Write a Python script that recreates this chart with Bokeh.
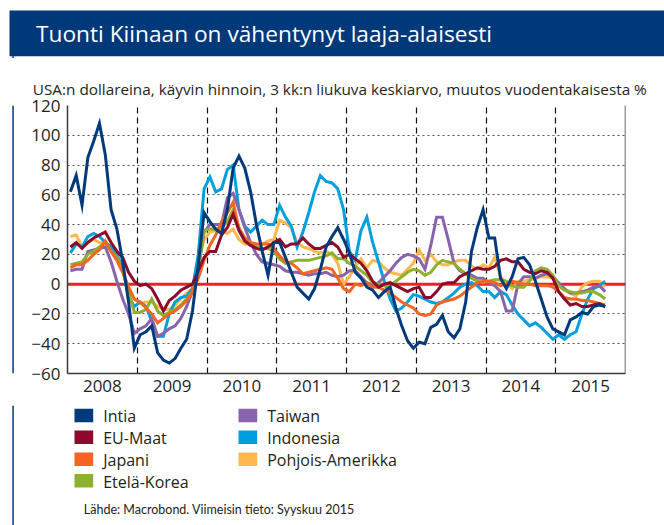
from bokeh.plotting import figure
from bokeh.layouts import column, row
from bokeh.models import Span, FixedTicker, Range1d, CustomJSTickFormatter, Title
from bokeh.core.properties import value
from bokeh.embed import file_html
from bokeh.resources import INLINE

# ---------------- data (monthly, Jan 2008 - Sep 2015, % y/y) ----------------
start_year = 2008
series_names = ["Intia", "EU-Maat", "Japani", "Etelä-Korea", "Taiwan", "Indonesia", "Pohjois-Amerikka"]

intia = [62, 73, 53, 85, 96, 108, 87, 50, 37, 15, -12, -43,
         -34, -32, -28, -46, -51, -53, -50, -43, -37, -18, 13, 48,
         42, 37, 34, 50, 78, 86, 78, 62, 40, 22, 6, 28,
         28, 18, 8, -2, -6, -10, -3, 10, 25, 32, 38, 30,
         21, 8, 4, -2, -4, -9, -5, -2, -16, -28, -38, -43,
         -39, -40, -29, -27, -21, -32, -36, -30, -12, 22, 38, 50,
         31, 31, 4, -3, 5, 17, 18, 13, 2, -10, -22, -30,
         -32, -34, -24, -22, -19, -20, -15, -14, -15]

eu_maat = [25, 28, 24, 28, 31, 33, 35, 28, 22, 18, 8, 2,
           -1, 0, -3, -10, -18, -11, -8, -4, -2, 0, 9, 18,
           22, 22, 33, 38, 47, 36, 29, 26, 24, 23, 25, 28,
           30, 25, 27, 27, 31, 27, 24, 24, 26, 28, 25, 18,
           20, 17, 14, 9, 2, -2, 0, 1, -1, -3, -5, -3,
           -2, -9, -9, -5, 0, 1, 1, 5, 7, 9, 11, 10,
           10, 12, 16, 17, 15, 15, 10, 8, 7, 9, 8, 4,
           -5, -10, -14, -13, -15, -15, -14, -13, -15]

japani = [11, 13, 13, 16, 20, 23, 29, 22, 16, 8, -2, -10,
          -12, -16, -20, -26, -23, -20, -18, -15, -11, -5, 4, 16,
          26, 33, 42, 48, 55, 37, 31, 28, 27, 27, 27, 24,
          19, 15, 14, 11, 7, 8, 9, 10, 11, 10, 4, -3,
          -5, 0, -1, 1, -2, -2, -4, -6, -9, -12, -14, -16,
          -20, -21, -20, -14, -12, -11, -10, -8, -5, -2, 1, 2,
          2, 1, -1, 0, 2, 1, 0, 0, -1, -1, -1, -2,
          -5, -9, -10, -10, -11, -11, -12, -13, -14]

etela_korea = [13, 14, 15, 20, 22, 25, 28, 22, 18, 10, -5, -19,
               -19, -17, -10, -18, -21, -19, -17, -14, -10, -5, 10, 36,
               37, 37, 38, 42, 50, 38, 31, 27, 25, 24, 24, 22,
               17, 14, 15, 16, 16, 16, 17, 18, 19, 21, 17, 17,
               14, 12, 9, 6, 1, 0, -1, -1, 2, 5, 8, 10,
               9, 6, 8, 13, 16, 15, 14, 10, 7, 4, 2, 1,
               2, 3, 3, 2, -1, -2, -2, 2, 9, 11, 10, 6,
               -1, -4, -5, -6, -6, -5, -5, -7, -10]

taiwan = [9, 10, 10, 22, 23, 24, 25, 15, 2, -10, -20, -33,
          -30, -28, -23, -35, -33, -30, -28, -23, -15, -5, 10, 35,
          40, 40, 40, 58, 61, 50, 38, 28, 20, 15, 14, 13,
          12, 9, 8, 8, 7, 6, 7, 7, 8, 6, 5, 6,
          9, 9, 5, 1, -1, 1, 5, 9, 14, 18, 20, 19,
          17, 10, 26, 45, 45, 30, 14, 9, 7, 6, 4, 4,
          1, -1, -5, -18, -18, 0, 5, 5, 4, 6, 7, 5,
          1, -3, -6, -6, -5, -4, -2, -1, -5]

indonesia = [21, 27, 25, 32, 34, 32, 28, 25, 20, 10, -8, -15,
             -12, -15, -25, -35, -35, -20, -12, -9, -8, -3, 20, 64,
             72, 62, 64, 77, 80, 50, 39, 35, 39, 43, 40, 40,
             53, 45, 39, 25, 35, 48, 62, 73, 69, 68, 64, 50,
             22, 16, 36, 45, 28, 15, 2, -10, -18, -16, -12, -7,
             -8, -10, -12, -13, -12, -9, -6, -2, 0, 1, -1, -5,
             -5, -9, -5, -7, -14, -20, -24, -28, -26, -29, -33, -37,
             -34, -37, -34, -32, -20, -10, -3, -1, 2]

pohjois_amerikka = [32, 33, 25, 28, 30, 28, 27, 22, 16, 8, -2, -10,
                    -13, -12, -12, -15, -17, -17, -14, -10, -6, -3, 15, 30,
                    35, 36, 36, 34, 37, 30, 27, 27, 26, 27, 29, 30,
                    43, 41, 38, 28, 25, 24, 22, 21, 22, 20, 14, 0,
                    5, 12, 17, 11, 16, 15, 11, 8, 7, 6, 10, 14,
                    23, 16, 20, 15, 13, 13, 15, 16, 16, 12, 10, 13,
                    11, 18, 5, 1, -3, 2, 2, 3, 4, 5, 5, 4,
                    -1, -4, -6, -8, -2, 1, 2, 2, -2]

year_ticks = [2008, 2009, 2010, 2011, 2012, 2013, 2014, 2015]
y_ticks = [-60, -40, -20, 0, 20, 40, 60, 80, 100, 120]

colors = {
    "Intia": "#003a7a",
    "EU-Maat": "#8c0a2c",
    "Japani": "#f26522",
    "Etelä-Korea": "#8db02f",
    "Taiwan": "#8a63ad",
    "Indonesia": "#00a0de",
    "Pohjois-Amerikka": "#fdb94e",
}
values = {
    "Intia": intia, "EU-Maat": eu_maat, "Japani": japani, "Etelä-Korea": etela_korea,
    "Taiwan": taiwan, "Indonesia": indonesia, "Pohjois-Amerikka": pohjois_amerikka,
}

title_text = "Tuonti Kiinaan on vähentynyt laaja-alaisesti"
subtitle_text = "USA:n dollareina, käyvin hinnoin, 3 kk:n liukuva keskiarvo, muutos vuodentakaisesta %"
source_text = "Lähde: Macrobond. Viimeisin tieto: Syyskuu 2015"

FONT = "Open Sans"
NAVY = "#00397a"
TXT = "#231f20"
PAGE_W = 664
HEAD_H = 58      # header strip (title bar)
MAIN_BOTTOM = 405
MAIN_H = MAIN_BOTTOM - HEAD_H   # chart strip (with subtitle)
FOOT_H = 525 - MAIN_BOTTOM      # legend + source strip
SPACER_W = 14    # strip left of the chart holding the frame border line
BORDER_X0, BORDER_X1 = 11.8, 13.3
BASELINE_FIX = 0.37  # em: empirical correction of text glyph baseline placement


def strip(width, height):
    """A figure whose frame is the whole canvas, in pixel coordinates (y down)."""
    f = figure(width=width, height=height, output_backend="svg", toolbar_location=None,
               x_range=Range1d(0, width), y_range=Range1d(height, 0),
               x_axis_type=None, y_axis_type=None, min_border=0)
    f.outline_line_color = None
    f.grid.visible = False
    f.background_fill_color = "white"
    f.border_fill_color = "white"
    return f


def put_text(f, x, baseline, txt, size, color, font=FONT):
    f.text(x=[x], y=[baseline - BASELINE_FIX * size], text=[txt], text_font=value(font),
           text_font_size=value(f"{size}px"), text_color=color, text_baseline="alphabetic")


# ---------------- header ----------------
head = strip(PAGE_W, HEAD_H)
head.quad(left=[9], right=[PAGE_W], top=[10], bottom=[55.7], fill_color=NAVY, line_color=None)
head.quad(left=[BORDER_X0], right=[BORDER_X1], top=[55], bottom=[HEAD_H], fill_color=NAVY,
          line_color=None)
put_text(head, 35.5, 41.7, title_text, 22.7, "white")

# ---------------- chart ----------------
spacer = strip(SPACER_W, MAIN_H)
spacer.quad(left=[BORDER_X0], right=[BORDER_X1], top=[0], bottom=[MAIN_H], fill_color=NAVY,
            line_color=None)

FRAME_L, FRAME_R, FRAME_T, FRAME_B = 67, 625, 105, 373
p = figure(width=PAGE_W - SPACER_W, height=MAIN_H, output_backend="svg", toolbar_location=None,
           x_range=Range1d(year_ticks[0], year_ticks[-1] + 1),
           y_range=Range1d(y_ticks[0], y_ticks[-1]),
           min_border_left=FRAME_L - SPACER_W, min_border_right=PAGE_W - FRAME_R,
           min_border_top=FRAME_T - HEAD_H, min_border_bottom=MAIN_BOTTOM - FRAME_B)
p.outline_line_color = None
p.background_fill_color = "white"
p.border_fill_color = "white"
p.add_layout(Title(text=subtitle_text, align="left", offset=32.3 - FRAME_L,
                   text_font=FONT, text_font_size="15.3px", text_color=TXT,
                   text_font_style="normal", standoff=14), "above")

p.yaxis.ticker = FixedTicker(ticks=y_ticks)
p.xaxis.ticker = FixedTicker(ticks=[y + 0.5 for y in year_ticks])
p.xaxis.formatter = CustomJSTickFormatter(code="return String(Math.floor(tick));")
for ax in (p.xaxis, p.yaxis):
    ax.major_tick_in = 0
    ax.major_tick_out = 0
    ax.minor_tick_line_color = None
    ax.axis_line_color = "#3a3a3a"
    ax.axis_line_width = 1.5
    ax.major_label_text_font = FONT
    ax.major_label_text_font_size = "17px"
    ax.major_label_text_color = TXT
p.yaxis.major_label_standoff = 7
p.xaxis.major_label_standoff = 6

p.xgrid.ticker = FixedTicker(ticks=year_ticks[1:])
p.xgrid.grid_line_color = "#111111"
p.xgrid.grid_line_dash = "6 4"
p.xgrid.grid_line_width = 1.2
p.ygrid.ticker = FixedTicker(ticks=y_ticks[1:])
p.ygrid.grid_line_color = "#555555"
p.ygrid.grid_line_dash = "2 3"
p.ygrid.grid_line_width = 1.2

p.add_layout(Span(location=year_ticks[-1] + 1, dimension="height", line_color="#3a3a3a",
                  line_width=1.5))
p.add_layout(Span(location=0, dimension="width", line_color="#ee2028", line_width=3,
                  level="underlay"))

draw_order = ["Pohjois-Amerikka", "Indonesia", "Taiwan", "Etelä-Korea", "Japani", "EU-Maat", "Intia"]
for name in draw_order:
    vals = values[name]
    xs = [start_year + (i + 0.5) / 12 for i in range(len(vals))]
    p.line(xs, vals, line_color=colors[name], line_width=3, line_join="miter")

# ---------------- footer: legend + source ----------------
foot = strip(PAGE_W, FOOT_H)
foot.quad(left=[BORDER_X0], right=[BORDER_X1], top=[0], bottom=[FOOT_H], fill_color=NAVY,
          line_color=None)

legend_cols = [series_names[:4], series_names[4:]]
col_x = [74, 238]
row_base = [421.7, 443.5, 465.5, 487.0]
for c, names in enumerate(legend_cols):
    for r, name in enumerate(names):
        base = row_base[r] - MAIN_BOTTOM
        foot.quad(left=[col_x[c]], right=[col_x[c] + 18.7], top=[base - 13.4], bottom=[base],
                  fill_color=colors[name], line_color=None)
        put_text(foot, col_x[c] + 28.7, base, name, 16, TXT)

put_text(foot, 83.3, 513.3 - MAIN_BOTTOM, source_text, 12.5, TXT, font="Lato")

layout = column(head, row(spacer, p, spacing=0), foot, spacing=0)
open("out.html", "w").write(file_html(layout, INLINE))
